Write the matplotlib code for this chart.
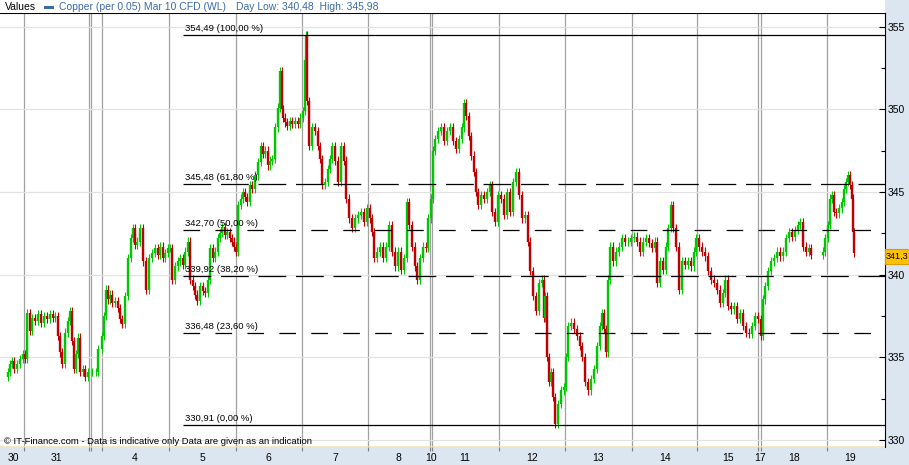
import matplotlib
matplotlib.use('Agg')
import matplotlib.pyplot as plt
from matplotlib.patches import Rectangle
import numpy as np

plt.rcParams['font.family'] = ['Liberation Sans', 'DejaVu Sans']
plt.rcParams['lines.scale_dashes'] = False

# Copper (per 0.05) Mar 10 CFD - intraday closes
# t = trading time position (chart units), close = price
t = [5, 8, 10, 12, 14, 17, 20, 23, 25, 27, 30, 32, 35, 38, 41, 44, 47, 50, 53, 55,
     58, 60, 62, 65, 68, 70, 72, 74, 76, 78, 80, 83, 85, 88, 92, 96, 98, 102, 104, 106,
     108, 110, 112, 115, 118, 120, 122, 125, 128, 131, 133, 135, 137, 140, 143, 146, 149,
     152, 155, 158, 160, 163, 165, 168, 170, 172, 175, 178, 180, 183, 185, 188, 190, 193,
     195, 197, 200, 203, 205, 208, 210, 213, 215, 218, 220, 222, 225, 227, 230, 232, 234,
     236, 238, 241, 243, 245, 247, 250, 252, 255, 258, 261, 263, 265, 268, 270, 272, 275,
     278, 280, 282, 283, 285, 287, 290, 292, 295, 298, 300,
     303, 305, 306, 307, 309, 312, 315, 318, 320, 322, 325, 328, 330, 332, 335, 338, 341,
     344, 346, 349, 352, 355, 358, 361, 364, 367, 370, 372, 374, 377, 380, 383, 386, 389,
     392, 395, 398, 401, 404, 407, 409, 412, 415, 417, 420, 423, 426, 428, 431, 433, 435,
     438, 441, 444, 447,
     450, 453, 456, 459, 462, 464, 466, 469, 471, 474, 476, 478, 481, 484, 487, 490, 492,
     495, 498, 501, 504, 507, 510, 513, 516, 519, 522, 525, 528, 530, 533, 536, 539, 542,
     544, 545, 547, 549, 551, 553, 555, 558, 561, 564, 566, 568, 571, 574, 577, 580, 582,
     585, 588, 591, 594, 597,
     600, 602, 604, 606, 608, 610, 613, 616, 619, 622, 625, 628, 631, 634, 637, 640, 643,
     646, 649, 652, 655, 657, 660, 663, 666, 668, 671, 673, 676, 679, 682, 685, 688, 691,
     694, 696, 699, 702, 705, 708, 711, 714, 717, 720, 723, 725, 728, 731, 734, 737, 740,
     743, 746,
     749, 752, 755, 758, 761, 763, 765, 768, 771, 774, 777, 780, 783, 786, 789, 792, 795,
     798, 800, 803, 806, 809, 811, 823, 825, 828, 830, 832, 834, 836, 839, 842, 844, 846,
     848, 850, 852, 853, 854]

close = [333.8, 334.1, 334.6, 334.8, 334.3, 334.6, 334.9, 335.2, 334.9, 337.7, 336.6, 337.4,
         337.2, 337.6, 337.1, 337.5, 337.3, 337.6, 337.4, 337.5, 336.3, 335.3, 334.6, 336.5,
         337.2, 337.8, 336.0, 334.3, 335.2, 336.2, 334.1, 334.3, 333.8, 334.1, 334.1, 334.1,
         335.5, 336.3, 337.5, 339.1, 338.5, 338.8, 338.3, 338.4, 338.0, 337.3, 337.0, 338.7,
         341.0, 342.2, 342.8, 341.8, 342.0, 342.8, 340.8, 339.1, 341.0,
         341.3, 341.6, 341.2, 341.7, 341.0, 341.3, 341.6, 341.6, 339.7, 340.5, 340.8, 341.0,
         340.6, 341.4, 342.0, 339.7, 339.3, 338.8, 338.4, 339.3, 339.0, 338.9, 339.7, 341.6,
         341.0, 341.4, 342.2, 342.5, 342.9, 342.4, 342.6, 342.2, 342.0, 341.7, 341.4, 344.2,
         344.6, 345.0, 344.7, 344.4, 345.4, 345.2, 346.0, 346.8, 347.8, 347.3, 347.5, 346.6,
         346.9, 347.0, 348.9, 350.1, 352.3, 350.0, 349.5, 349.2, 349.0, 349.3, 349.1, 349.3,
         349.1, 349.5,
         349.9, 353.0, 354.49, 350.5, 347.8, 348.9, 348.7, 347.8, 347.0, 345.4, 345.6, 346.4,
         347.0, 347.8, 346.9, 345.6, 347.8, 346.9, 344.6, 343.4, 342.8, 343.4, 343.6, 343.8,
         343.2, 344.0, 343.4, 342.6, 341.0, 341.4, 341.7, 341.0, 341.7, 343.0, 341.4, 340.5,
         341.4, 340.3, 341.0, 344.4, 343.0, 341.7, 340.5, 339.7, 341.0, 341.7, 341.6, 343.4,
         344.6, 347.5, 348.2, 348.7, 348.9, 348.1, 348.7,
         348.9, 348.1, 347.6, 348.2, 348.9, 350.4, 349.6, 348.4, 347.2, 346.2, 345.0, 344.2,
         344.8, 344.6, 345.0, 345.4, 343.8, 343.2, 344.8, 344.6, 343.6, 345.0, 343.8, 345.6,
         346.2, 344.8, 343.4, 343.6, 342.0, 340.2, 338.7, 337.8, 339.5, 339.7, 337.4, 338.7,
         335.0, 333.5, 334.1, 332.6, 331.0, 332.2, 333.0, 333.2, 335.0, 336.9, 337.1, 336.7,
         336.3, 335.7, 335.0, 333.5, 333.0, 333.7, 334.3, 335.7,
         336.9, 337.7, 336.7, 335.3, 339.7, 341.7, 340.8, 341.4, 341.7, 342.2, 342.0, 342.0,
         342.2, 342.3, 342.0, 341.4, 342.0, 342.2, 341.9, 341.6, 342.0, 339.5, 340.8, 340.3,
         341.7, 342.8, 344.2, 342.8, 341.7, 339.1, 340.8, 340.6, 340.8, 340.5, 341.4, 342.2,
         341.7, 341.4, 341.1, 340.2, 339.7, 339.5, 339.1, 338.3, 338.9, 339.7, 338.1, 337.9,
         338.1, 337.3, 337.7, 336.9, 336.5,
         336.4, 336.9, 337.5, 337.3, 336.3, 338.5, 339.3, 340.2, 340.8, 341.0, 341.4, 341.1,
         341.4, 342.2, 342.6, 342.3, 342.7, 343.0, 343.2, 341.7, 341.4, 341.6, 341.2, 341.4,
         342.2, 343.0, 344.6, 344.8, 343.8, 343.7, 344.0, 344.4, 345.2, 345.6, 346.0, 345.4,
         344.6, 342.6, 341.3]

# day separators and labels on the time axis
day_bounds = [24, 89, 91, 102, 169, 236, 302, 368, 430, 432, 499, 565, 632, 697, 758, 761, 827]
day_pos = [13, 56, 91, 135, 202, 268, 335, 398, 431, 465, 532, 598, 665, 728, 760, 794, 850]
day_labels = ['30', '31', '1', '4', '5', '6', '7', '8', '10', '11', '12', '13', '14',
              '15', '17', '18', '19']

# Fibonacci retracement levels as printed on the chart
fib_levels = [330.91, 336.48, 339.92, 342.70, 345.48, 354.49]
fib_pcts = [0.0, 23.6, 38.2, 50.0, 61.8, 100.0]
fib_start = 183
last_price = '341,3'

W, H = 909, 465
fig = plt.figure(figsize=(W / 100, H / 100), dpi=100, facecolor='#dce6f0')
ax = fig.add_axes([0, (H - 447) / H, 885 / W, 434 / H])
ax.set_facecolor('white')

# white header strip
fig.patches.append(Rectangle((0, 1 - 13 / H), 885 / W, 13 / H, transform=fig.transFigure,
                             facecolor='white', edgecolor='none', zorder=0))

t = np.array(t)
close = np.array(close)
opens = close[:-1]
closes = close[1:]
cols = np.where(closes >= opens, '#00c800', '#c00000')
lo = np.minimum(opens, closes)
hi = np.maximum(opens, closes)
# thin wicks, then bodies
ax.vlines(t[1:], lo - 0.25, hi + 0.25, colors=cols, lw=0.8, zorder=3)
ax.vlines(t[1:], opens, closes, colors=cols, lw=1.7, zorder=3)

ax.set_xlim(0, 885)
ax.set_ylim(329.58, 355.82)

# fib levels
dash_long = (0, (20, 7))
dash_short = (0, (12, 11))
styles = {0.0: '-', 23.6: dash_short, 38.2: dash_long, 50.0: dash_short, 61.8: dash_long, 100.0: '-'}
for lvl, p in zip(fib_levels, fib_pcts):
    ax.hlines(lvl, fib_start, 885, colors='black', lw=0.9, linestyles=styles[p], zorder=4)
    lab = '%s (%s %%)' % (('%.2f' % lvl).replace('.', ','), ('%.2f' % p).replace('.', ','))
    ax.text(fib_start + 2, lvl + 0.12, lab, fontsize=6.8, va='bottom', ha='left', zorder=5)

# axes styling
for s in ['left', 'bottom']:
    ax.spines[s].set_visible(False)
ax.spines['right'].set_color('black')
ax.spines['top'].set_color('black')
ax.spines['right'].set_linewidth(0.8)
ax.spines['top'].set_linewidth(0.8)

ax.yaxis.tick_right()
ax.set_yticks(np.arange(330, 356, 5))
ax.set_yticks(np.arange(332.5, 356, 5), minor=True)
ax.tick_params(axis='y', which='major', direction='in', length=4, pad=2, labelsize=7.5, width=0.8)
ax.tick_params(axis='y', which='minor', direction='in', length=3, width=0.8)

ax.set_xticks(day_bounds)
ax.set_xticks(day_pos, day_labels, minor=True)
ax.tick_params(axis='x', which='major', direction='out', length=3, color='#808080',
               labelbottom=False, width=0.8)
ax.tick_params(axis='x', which='minor', length=0, pad=4, labelsize=7.5)

ax.set_axisbelow(True)
ax.xaxis.grid(True, which='major', color='#a0a0a0', lw=0.9)
ax.yaxis.grid(True, which='major', color='#e2e2e2', lw=0.9)
ax.axhline(329.58, color='#efe4b8', lw=1.2, zorder=2)

# header
fig.text(5 / W, 1 - 7 / H, 'Values', fontsize=7.5, va='center')
fig.patches.append(Rectangle((44 / W, 1 - 9 / H), 10 / W, 3 / H, transform=fig.transFigure,
                             facecolor='#3a6aa8', edgecolor='none'))
fig.text(59 / W, 1 - 7 / H, 'Copper (per 0.05) Mar 10 CFD (WL)', fontsize=7.5, va='center',
         color='#3a6aa8')
fig.text(236 / W, 1 - 7 / H, 'Day Low: 340,48  High: 345,98', fontsize=7.5, va='center',
         color='#3a6aa8')

# footer note
fig.text(4 / W, 1 - 441 / H, '\u00a9 IT-Finance.com - Data is indicative only Data are given as an indication',
         fontsize=6.8, va='center')

# last price marker
fig.patches.append(Rectangle((885 / W, 1 - 264 / H), 24 / W, 15 / H, transform=fig.transFigure,
                             facecolor='#fcc200', edgecolor='#d89a00', lw=0.8))
fig.text(886 / W, 1 - 256.5 / H, last_price, fontsize=6.6, va='center', ha='left')

fig.savefig('out.png', dpi=100, facecolor=fig.get_facecolor())
